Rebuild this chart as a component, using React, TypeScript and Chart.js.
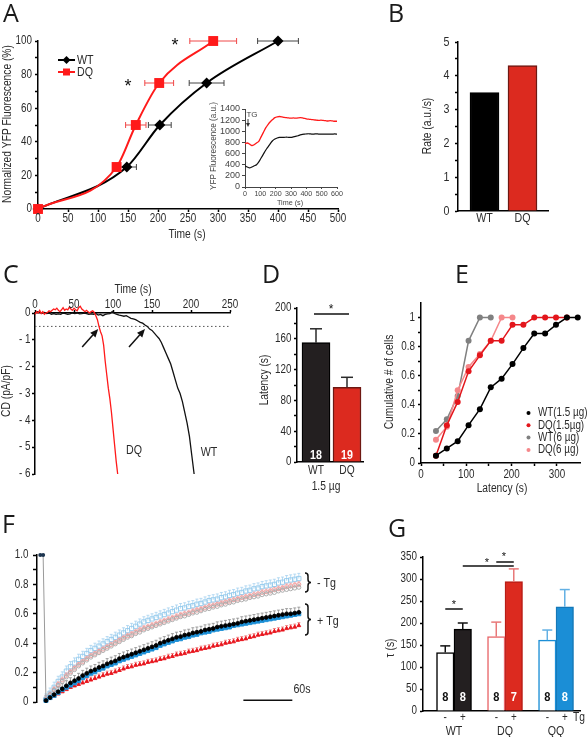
import React, { useEffect, useRef } from 'react';
import { Chart, registerables } from 'chart.js';

Chart.register(...registerables);

const W = 588;
const H = 737;
const FONT = '"Liberation Sans", Arial, sans-serif';
const LETTER_FONT = '"Open Sans", "DejaVu Sans", sans-serif';
const NARROW = 0.82;
const TS = 12.5; // title / annotation text size
const INK = '#000000';
const LABEL = '#2b2b2b';
const RED = '#ff1a1a';
const BAR_RED = '#dc2a1f';
const BAR_BLACK = '#231f20';
const BLUE = '#1b8ed6';

/* ---------- Panel A ---------- */
const A_LEVELS = [0, 25, 50, 75, 100];
const A_WT_TIME = [0, 148, 203, 281, 400];
const A_WT_TIME_ERR = [0, 16, 19, 29, 34];
const A_DQ_TIME = [0, 131, 163, 202, 292];
const A_DQ_TIME_ERR = [0, 0, 17, 24, 39];
const A_X_TICKS = [0, 50, 100, 150, 200, 250, 300, 350, 400, 450, 500];
const A_Y_TICKS = [0, 20, 40, 60, 80, 100];
const A_Y_MINOR = [10, 30, 50, 70, 90];

/* ---------- Panel A inset ---------- */
const INSET_STEP_S = 15;
const INSET_DQ = [780, 790, 770, 745, 760, 790, 820, 900, 980, 1060, 1120, 1170, 1210, 1245, 1260, 1265, 1260, 1250, 1245, 1240, 1235, 1240, 1235, 1240, 1245, 1240, 1230, 1220, 1215, 1210, 1205, 1200, 1195, 1200, 1195, 1190, 1185, 1190, 1185, 1180, 1180];
const INSET_WT = [380, 360, 345, 360, 380, 400, 450, 520, 590, 660, 720, 780, 830, 860, 880, 890, 890, 890, 895, 890, 890, 900, 910, 920, 935, 945, 950, 955, 955, 950, 950, 955, 950, 950, 948, 950, 950, 948, 950, 952, 950];
const INSET_X_TICKS = [0, 100, 200, 300, 400, 500, 600];
const INSET_Y_TICKS = [0, 200, 400, 600, 800, 1000, 1200, 1400];

/* ---------- Panel B ---------- */
const B_CATS = ['WT', 'DQ'];
const B_RATE = [3.5, 4.3];
const B_Y_TICKS = [0, 1, 2, 3, 4, 5];
const B_Y_MINOR = [0.5, 1.5, 2.5, 3.5, 4.5];

/* ---------- Panel C ---------- */
const C_DQ_STEP_S = 2;
const C_DQ = [-0.05, 0.05, 0.0, 0.1, -0.02, 0.05, -0.05, 0.0, 0.02, 0.08, 0.05, 0.1, 0.15, 0.12, 0.18, 0.1, 0.05, 0.12, 0.2, 0.1, 0.15, 0.12, 0.22, 0.15, 0.1, 0.18, 0.12, 0.08, 0.2, 0.25, 0.15, 0.1, 0.05, 0.1, 0.05, 0.0, 0.05, 0.08, 0.02, -0.1, -0.25, -0.5, -0.7, -0.85, -1.2, -1.8, -2.3, -2.8, -3.2, -3.7, -4.3, -4.9, -5.5, -6];
const C_WT_STEP_S = 3;
const C_WT = [0, 0.05, 0.02, 0, 0.02, -0.02, 0, -0.05, -0.02, -0.05, -0.03, -0.05, 0, -0.02, -0.05, -0.03, 0, -0.02, 0, -0.03, -0.02, 0, -0.02, -0.05, -0.03, -0.05, -0.02, -0.08, -0.05, -0.1, -0.05, -0.03, -0.02, 0.05, -0.02, -0.05, -0.08, -0.1, -0.12, -0.1, -0.15, -0.2, -0.22, -0.25, -0.3, -0.35, -0.38, -0.45, -0.5, -0.6, -0.65, -0.75, -0.85, -0.95, -1.1, -1.3, -1.5, -1.7, -1.9, -2.2, -2.5, -2.8, -3.0, -3.3, -3.7, -4.1, -4.6, -5.3, -6.0];
const C_THRESHOLD = -0.5;
const C_ARROW_TIPS = [[81, -0.6], [141, -0.6]];
const C_X_TICKS = [0, 50, 100, 150, 200, 250];
const C_Y_TICKS = [0, -1, -2, -3, -4, -5, -6];

/* ---------- Panel D ---------- */
const D_CATS = ['WT', 'DQ'];
const D_LATENCY = [155, 97];
const D_ERR = [18, 13];
const D_N = ['18', '19'];
const D_Y_TICKS = [0, 40, 80, 120, 160, 200];
const D_Y_MINOR = [20, 60, 100, 140, 180];

/* ---------- Panel E ---------- */
const E_T_WT15 = [33, 57, 81, 105, 130, 154, 178, 202, 226, 250, 274, 298, 322, 346];
const E_WT15 = [0.05, 0.1, 0.15, 0.26, 0.37, 0.52, 0.58, 0.68, 0.79, 0.89, 0.89, 0.95, 1, 1];
const E_T_DQ15 = [33, 57, 81, 105, 130, 154, 178, 202, 226, 250, 274, 298, 322];
const E_DQ15 = [0.05, 0.26, 0.42, 0.63, 0.74, 0.84, 0.84, 0.95, 0.95, 1, 1, 1, 1];
const E_T_WT6 = [33, 57, 81, 105, 130, 154];
const E_WT6 = [0.22, 0.3, 0.46, 0.84, 1, 1];
const E_T_DQ6 = [33, 57, 81, 105, 130, 154, 178, 202];
const E_DQ6 = [0.16, 0.25, 0.5, 0.66, 0.75, 0.84, 1, 1];
const E_LEGEND = ['WT(1.5 µg)', 'DQ(1.5µg)', 'WT(6 µg)', 'DQ(6 µg)'];
const E_COLORS = ['#000000', '#e3161c', '#808080', '#f5878a'];
const E_X_TICKS = [0, 100, 200, 300];
const E_X_MINOR = [50, 150, 250];
const E_Y_TICKS = [0, 0.2, 0.4, 0.6, 0.8, 1];
const E_Y_MINOR = [0.1, 0.3, 0.5, 0.7, 0.9];

/* ---------- Panel F ---------- */
const F_STEP_S = 5;
const F_PRE_T = [-7, -3.5];
const F_PRE = [1, 1];
const F_WT_TG = [0.01, 0.03, 0.05, 0.07, 0.09, 0.11, 0.13, 0.145, 0.16, 0.18,
  0.195, 0.21, 0.22, 0.235, 0.245, 0.26, 0.27, 0.28, 0.295, 0.305,
  0.315, 0.325, 0.335, 0.345, 0.355, 0.365, 0.375, 0.385, 0.4, 0.41,
  0.42, 0.43, 0.44, 0.445, 0.455, 0.46, 0.47, 0.475, 0.48, 0.49,
  0.495, 0.5, 0.51, 0.515, 0.52, 0.525, 0.53, 0.535, 0.545, 0.55,
  0.555, 0.56, 0.565, 0.57, 0.575, 0.58, 0.585, 0.59, 0.595, 0.6,
  0.6, 0.605, 0.61];
const F_QQ_TG = [0.01, 0.03, 0.045, 0.065, 0.085, 0.1, 0.115, 0.13, 0.145, 0.165,
  0.18, 0.195, 0.205, 0.22, 0.23, 0.245, 0.255, 0.265, 0.28, 0.29,
  0.3, 0.31, 0.32, 0.33, 0.34, 0.35, 0.36, 0.37, 0.385, 0.395,
  0.405, 0.415, 0.425, 0.43, 0.44, 0.445, 0.455, 0.46, 0.47, 0.475,
  0.48, 0.49, 0.495, 0.5, 0.505, 0.51, 0.52, 0.525, 0.53, 0.535,
  0.54, 0.545, 0.55, 0.555, 0.56, 0.565, 0.57, 0.575, 0.58, 0.585,
  0.59, 0.595, 0.6];
const F_DQ_TG = [0.01, 0.025, 0.04, 0.055, 0.07, 0.085, 0.1, 0.11, 0.12, 0.13,
  0.14, 0.15, 0.16, 0.17, 0.18, 0.19, 0.195, 0.205, 0.215, 0.225,
  0.235, 0.24, 0.25, 0.255, 0.26, 0.27, 0.275, 0.28, 0.29, 0.295,
  0.305, 0.31, 0.32, 0.325, 0.33, 0.34, 0.345, 0.35, 0.36, 0.365,
  0.37, 0.38, 0.385, 0.39, 0.4, 0.405, 0.41, 0.42, 0.425, 0.43,
  0.44, 0.445, 0.455, 0.46, 0.465, 0.47, 0.48, 0.485, 0.49, 0.5,
  0.505, 0.51, 0.52];
const F_QQ_NO = [0.02, 0.06, 0.1, 0.14, 0.17, 0.21, 0.24, 0.265, 0.29, 0.31,
  0.33, 0.35, 0.365, 0.38, 0.395, 0.41, 0.425, 0.44, 0.455, 0.47,
  0.485, 0.5, 0.515, 0.53, 0.545, 0.555, 0.565, 0.575, 0.585, 0.595,
  0.605, 0.615, 0.625, 0.635, 0.64, 0.65, 0.655, 0.665, 0.67, 0.68,
  0.69, 0.695, 0.7, 0.71, 0.715, 0.725, 0.73, 0.74, 0.745, 0.755,
  0.76, 0.77, 0.775, 0.785, 0.79, 0.795, 0.8, 0.81, 0.815, 0.825,
  0.83, 0.835, 0.84];
const F_DQ_NO = [0.02, 0.05, 0.085, 0.12, 0.15, 0.18, 0.205, 0.23, 0.255, 0.275,
  0.295, 0.315, 0.33, 0.345, 0.36, 0.375, 0.39, 0.405, 0.42, 0.435,
  0.45, 0.46, 0.475, 0.49, 0.5, 0.51, 0.52, 0.53, 0.54, 0.55,
  0.56, 0.57, 0.58, 0.59, 0.6, 0.605, 0.615, 0.625, 0.63, 0.64,
  0.65, 0.655, 0.665, 0.67, 0.68, 0.685, 0.695, 0.7, 0.71, 0.715,
  0.72, 0.73, 0.735, 0.745, 0.75, 0.755, 0.765, 0.77, 0.775, 0.785,
  0.79, 0.795, 0.8];
const F_WT_NO = [0.02, 0.05, 0.08, 0.11, 0.14, 0.17, 0.195, 0.22, 0.245, 0.265,
  0.285, 0.305, 0.32, 0.335, 0.35, 0.365, 0.38, 0.395, 0.41, 0.425,
  0.44, 0.45, 0.465, 0.475, 0.49, 0.5, 0.51, 0.52, 0.53, 0.54,
  0.55, 0.56, 0.57, 0.58, 0.585, 0.595, 0.605, 0.61, 0.62, 0.63,
  0.635, 0.645, 0.65, 0.66, 0.665, 0.675, 0.68, 0.69, 0.695, 0.7,
  0.71, 0.715, 0.72, 0.73, 0.735, 0.74, 0.745, 0.755, 0.76, 0.765,
  0.77, 0.775, 0.78];
// order: WT+Tg, QQ+Tg, DQ+Tg, WT-Tg, DQ-Tg, QQ-Tg
const F_ERR = [0.035, 0.01, 0.02, 0.02, 0.02, 0.035];
const F_SCALE_BAR_S = [242, 302];
const F_Y_TICKS = [0, 0.2, 0.4, 0.6, 0.8, 1];
const F_Y_MINOR = [0.1, 0.3, 0.5, 0.7, 0.9];

/* ---------- Panel G ---------- */
const G_GROUPS = ['WT', 'DQ', 'QQ'];
const G_MINUS = [133, 169, 161];
const G_MINUS_ERR = [15, 33, 23];
const G_PLUS = [186, 294, 237];
const G_PLUS_ERR = [14, 29, 39];
const G_N_MINUS = ['8', '8', '8'];
const G_N_PLUS = ['8', '7', '8'];
const G_Y_TICKS = [0, 50, 100, 150, 200, 250, 300, 350];

/* ---------- helpers ---------- */
type Area = { l: number; t: number; r: number; b: number };

const pts = (xs: number[], ys: number[]) => xs.map((x, i) => ({ x, y: ys[i] }));
const series = (step: number, ys: number[]) => ys.map((y, i) => ({ x: i * step, y }));

function txt(ctx: CanvasRenderingContext2D, s: string, x: number, y: number, o: any = {}) {
  ctx.save();
  ctx.font = `${o.bold ? 'bold ' : ''}${o.size ?? TS}px ${o.family ?? FONT}`;
  ctx.fillStyle = o.color ?? LABEL;
  ctx.textAlign = o.align ?? 'center';
  ctx.textBaseline = o.base ?? 'middle';
  ctx.translate(x, y);
  if (o.rot) ctx.rotate(o.rot);
  const sx = o.sx ?? NARROW;
  if (sx !== 1) ctx.scale(sx, 1);
  ctx.fillText(s, 0, 0);
  ctx.restore();
}

function axis(o: any) {
  const all = [...(o.majors || []), ...(o.minors || [])].sort((a: number, b: number) => a - b);
  const tl = o.tickLen ?? 4;
  const col = o.color ?? INK;
  const lw = o.lw ?? 1.5;
  return {
    type: 'linear',
    position: o.position,
    min: o.min,
    max: o.max,
    offset: false,
    display: o.display ?? true,
    afterFit: (s: any) => {
      if (s.isHorizontal()) s.height = 0;
      else s.width = 0;
    },
    afterBuildTicks: (s: any) => {
      s.ticks = all.map((value: number) => ({ value }));
    },
    ticks: { display: false, autoSkip: false, maxRotation: 0, minRotation: 0 },
    grid: {
      display: tl > 0,
      offset: false,
      drawOnChartArea: false,
      drawTicks: tl > 0,
      tickLength: tl,
      tickColor: col,
      tickWidth: lw,
    },
    border: { display: o.border ?? true, color: col, width: lw },
  };
}

// tick labels drawn from the library's scales
function axisLabels(c: any, id: string, o: any) {
  if (!o || !o.majors) return;
  const s = c.scales[id];
  const a = c.chartArea;
  const ctx = c.ctx;
  const tl = o.tickLen ?? 4;
  const pad = o.pad ?? 2;
  const style = { size: o.size ?? 12, color: o.labelColor ?? LABEL, family: o.family ?? FONT, sx: o.sx ?? NARROW };
  o.majors.forEach((v: number) => {
    const label = o.fmt ? o.fmt(v) : String(v);
    if (!label) return;
    const p = s.getPixelForValue(v);
    if (s.isHorizontal()) {
      if (o.position === 'top') txt(ctx, label, p, a.top - tl - pad, { ...style, base: 'alphabetic' });
      else txt(ctx, label, p, a.bottom + tl + pad, { ...style, base: 'top' });
    } else {
      txt(ctx, label, a.left - tl - pad, p, { ...style, align: 'right', base: 'middle' });
    }
  });
}

function base(area: Area, scales: any) {
  return {
    responsive: false,
    maintainAspectRatio: false,
    animation: false,
    devicePixelRatio: 1,
    events: [],
    layout: {
      autoPadding: false,
      padding: { left: area.l, top: area.t, right: W - area.r, bottom: H - area.b },
    },
    plugins: { legend: { display: false }, tooltip: { enabled: false }, title: { display: false } },
    scales,
  };
}

function hook(id: string, xo: any, yo: any, before: any, after: any) {
  return {
    id,
    beforeDatasetsDraw(c: any) {
      if (before) before(c);
    },
    afterDatasetsDraw(c: any) {
      axisLabels(c, 'x', xo);
      axisLabels(c, 'y', yo);
      if (after) after(c);
    },
  };
}

function star(ctx: CanvasRenderingContext2D, x: number, y: number, size: number) {
  txt(ctx, '*', x, y + 0.22 * size, { size, color: '#111', sx: 1 });
}

function seg(ctx: CanvasRenderingContext2D, x1: number, y1: number, x2: number, y2: number, color: string, w: number, dash?: number[]) {
  ctx.save();
  ctx.strokeStyle = color;
  ctx.lineWidth = w;
  if (dash) ctx.setLineDash(dash);
  ctx.beginPath();
  ctx.moveTo(x1, y1);
  ctx.lineTo(x2, y2);
  ctx.stroke();
  ctx.restore();
}

function arrow(ctx: CanvasRenderingContext2D, x1: number, y1: number, x2: number, y2: number, color: string, hl = 8, hw = 3.5, lw = 1.5) {
  const a = Math.atan2(y2 - y1, x2 - x1);
  const bx = x2 - hl * Math.cos(a);
  const by = y2 - hl * Math.sin(a);
  seg(ctx, x1, y1, bx, by, color, lw);
  ctx.save();
  ctx.fillStyle = color;
  ctx.beginPath();
  ctx.moveTo(x2, y2);
  ctx.lineTo(bx + hw * Math.sin(a), by - hw * Math.cos(a));
  ctx.lineTo(bx - hw * Math.sin(a), by + hw * Math.cos(a));
  ctx.closePath();
  ctx.fill();
  ctx.restore();
}

function vErr(ctx: CanvasRenderingContext2D, x: number, y1: number, y2: number, cap: number, color: string, w: number) {
  seg(ctx, x, y1, x, y2, color, w);
  seg(ctx, x - cap / 2, y2, x + cap / 2, y2, color, w);
}

function brace(ctx: CanvasRenderingContext2D, x: number, y1: number, y2: number) {
  const ym = (y1 + y2) / 2;
  const r = 3;
  const xm = x + 3;
  const xt = x + 6;
  ctx.save();
  ctx.strokeStyle = '#111';
  ctx.lineWidth = 1.5;
  ctx.beginPath();
  ctx.moveTo(x, y1);
  ctx.quadraticCurveTo(xm, y1, xm, y1 + r);
  ctx.lineTo(xm, ym - r);
  ctx.quadraticCurveTo(xm, ym, xt, ym);
  ctx.quadraticCurveTo(xm, ym, xm, ym + r);
  ctx.lineTo(xm, y2 - r);
  ctx.quadraticCurveTo(xm, y2, x, y2);
  ctx.stroke();
  ctx.restore();
}

const ROT = -Math.PI / 2;

/* ---------- Panel A ---------- */
function drawAErr(c: any) {
  const ctx = c.ctx;
  const xs = c.scales.x;
  const ys = c.scales.y;
  const h = (t: number, e: number, lv: number, color: string) => {
    if (!e) return;
    const y = ys.getPixelForValue(lv);
    const x1 = xs.getPixelForValue(t - e);
    const x2 = xs.getPixelForValue(t + e);
    seg(ctx, x1, y, x2, y, color, 1);
    seg(ctx, x1, y - 3, x1, y + 3, color, 1);
    seg(ctx, x2, y - 3, x2, y + 3, color, 1);
  };
  A_LEVELS.forEach((lv, i) => {
    h(A_WT_TIME[i], A_WT_TIME_ERR[i], lv, '#444');
    h(A_DQ_TIME[i], A_DQ_TIME_ERR[i], lv, '#f04848');
  });
}

function drawAText(c: any) {
  const ctx = c.ctx;
  seg(ctx, 58, 60, 75, 60, INK, 2);
  ctx.save();
  ctx.fillStyle = INK;
  ctx.beginPath();
  ctx.moveTo(66.5, 56);
  ctx.lineTo(70.5, 60);
  ctx.lineTo(66.5, 64);
  ctx.lineTo(62.5, 60);
  ctx.closePath();
  ctx.fill();
  ctx.restore();
  txt(ctx, 'WT', 77, 60, { size: 13, align: 'left' });
  seg(ctx, 58, 72, 75, 72, RED, 2);
  ctx.save();
  ctx.fillStyle = RED;
  ctx.fillRect(63, 68.5, 7, 7);
  ctx.restore();
  txt(ctx, 'DQ', 77, 72, { size: 13, align: 'left' });
  star(ctx, 128, 83, 18);
  star(ctx, 175, 42, 18);
  txt(ctx, 'Time (s)', 187, 235);
  txt(ctx, 'Normalized YFP Fluorescence (%)', 8, 124, { rot: ROT });
}

function drawLetters(c: any) {
  const ctx = c.ctx;
  const letters: [string, number, number][] = [
    ['A', 3, 22], ['B', 388, 22], ['C', 3, 283], ['D', 262, 283], ['E', 455, 283], ['F', 2, 533], ['G', 388, 537],
  ];
  letters.forEach(([s, x, y]) => txt(ctx, s, x, y, { size: 25, family: LETTER_FONT, align: 'left', base: 'alphabetic', color: '#1a1a1a', sx: 1 }));
}

function panelA() {
  const area = { l: 38, t: 41, r: 338, b: 209 };
  const xo = { min: 0, max: 500, majors: A_X_TICKS, pad: 1, tickLen: 3 };
  const yo = { min: 0, max: 100, majors: A_Y_TICKS, minors: A_Y_MINOR, pad: 3, tickLen: 3 };
  return {
    type: 'line',
    data: {
      datasets: [
        {
          data: pts(A_DQ_TIME, A_LEVELS), borderColor: RED, backgroundColor: RED, pointBackgroundColor: RED,
          pointBorderColor: RED, borderWidth: 2, pointStyle: 'rect', pointRadius: 7, pointBorderWidth: 0,
          cubicInterpolationMode: 'monotone', clip: false,
        },
        {
          data: pts(A_WT_TIME, A_LEVELS), borderColor: INK, backgroundColor: INK, pointBackgroundColor: INK,
          pointBorderColor: INK, borderWidth: 2, pointStyle: 'rectRot', pointRadius: 5.5, pointBorderWidth: 0,
          cubicInterpolationMode: 'monotone', clip: false,
        },
      ],
    },
    options: base(area, { x: axis(xo), y: axis(yo) }),
    plugins: [hook('a', xo, yo, drawAErr, (c: any) => { drawAText(c); drawLetters(c); })],
  };
}

/* ---------- Inset ---------- */
function drawInset(c: any) {
  const ctx = c.ctx;
  txt(ctx, 'Time (s)', 290, 203, { size: 8, color: '#444', sx: 0.9 });
  txt(ctx, 'YFP Fluorescence (a.u.)', 214, 146, { size: 9, color: '#444', rot: ROT, sx: 0.9 });
  txt(ctx, 'TG', 252, 115, { size: 8, color: '#444', sx: 1 });
  arrow(ctx, 248, 119, 248, 127, '#333', 4, 2, 1);
}

function panelInset() {
  const area = { l: 245, t: 109, r: 337, b: 187 };
  const xo = { min: 0, max: 600, majors: INSET_X_TICKS, size: 7.5, pad: 1, tickLen: 2, lw: 1, color: '#444', labelColor: '#444', sx: 0.95 };
  const yo = { min: 0, max: 1400, majors: INSET_Y_TICKS, size: 9, pad: 2, tickLen: 3, lw: 1, color: '#444', labelColor: '#444', sx: 1 };
  return {
    type: 'line',
    data: {
      datasets: [
        { data: series(INSET_STEP_S, INSET_DQ), borderColor: RED, borderWidth: 1.3, pointRadius: 0, tension: 0.3 },
        { data: series(INSET_STEP_S, INSET_WT), borderColor: '#111', borderWidth: 1.2, pointRadius: 0, tension: 0.3 },
      ],
    },
    options: base(area, { x: axis(xo), y: axis(yo) }),
    plugins: [hook('inset', xo, yo, null, drawInset)],
  };
}

/* ---------- Panel B ---------- */
function panelB() {
  const area = { l: 458, t: 42, r: 548, b: 211 };
  const xo = { min: -0.697, max: 1.671, majors: [0, 1], fmt: (v: number) => B_CATS[Math.round(v)], size: 13, pad: 0.5, tickLen: 0 };
  const yo = { min: 0, max: 5, majors: B_Y_TICKS, minors: B_Y_MINOR, size: 13, pad: 5.5, tickLen: 3 };
  return {
    type: 'bar',
    data: {
      datasets: [
        {
          data: B_RATE.map((y, i) => ({ x: i, y })),
          backgroundColor: [INK, BAR_RED],
          borderColor: ['#000', '#6e1812'],
          borderWidth: 1.5,
          barThickness: 29,
        },
      ],
    },
    options: base(area, { x: axis(xo), y: axis(yo) }),
    plugins: [hook('b', xo, yo, null, (c: any) => txt(c.ctx, 'Rate (a.u./s)', 428, 126, { rot: ROT }))],
  };
}

/* ---------- Panel C ---------- */
function drawCBefore(c: any) {
  const ctx = c.ctx;
  const xs = c.scales.x;
  const ys = c.scales.y;
  const y = ys.getPixelForValue(C_THRESHOLD);
  seg(ctx, xs.getPixelForValue(0), y, xs.getPixelForValue(250), y, '#555', 1, [1.5, 2.5]);
}

function drawCAfter(c: any) {
  const ctx = c.ctx;
  const xs = c.scales.x;
  const ys = c.scales.y;
  C_ARROW_TIPS.forEach(([t, v]) => {
    const x = xs.getPixelForValue(t);
    const y = ys.getPixelForValue(v);
    arrow(ctx, x - 16, y + 18, x, y, '#111');
  });
  txt(ctx, 'DQ', 134, 450, { size: 13 });
  txt(ctx, 'WT', 209, 452, { size: 13 });
  txt(ctx, 'Time (s)', 133, 290);
  txt(ctx, 'CD (pA/pF)', 7, 391, { rot: ROT });
}

function panelC() {
  const area = { l: 35, t: 313, r: 230, b: 474 };
  const xo = { min: 0, max: 250, majors: C_X_TICKS, position: 'top', pad: 2, tickLen: 3 };
  const yo = { min: -6, max: 0, majors: C_Y_TICKS, fmt: (v: number) => (v === 0 ? '0' : '- ' + Math.abs(v)), pad: 1.5, tickLen: 3 };
  return {
    type: 'line',
    data: {
      datasets: [
        { data: series(C_DQ_STEP_S, C_DQ), borderColor: RED, borderWidth: 1.3, pointRadius: 0, clip: false },
        { data: series(C_WT_STEP_S, C_WT), borderColor: '#111', borderWidth: 1.3, pointRadius: 0, clip: false },
      ],
    },
    options: base(area, { x: axis(xo), y: axis(yo) }),
    plugins: [hook('c', xo, yo, drawCBefore, drawCAfter)],
  };
}

/* ---------- Panel D ---------- */
function drawD(c: any) {
  const ctx = c.ctx;
  const ys = c.scales.y;
  const meta = c.getDatasetMeta(0);
  meta.data.forEach((el: any, i: number) => {
    vErr(ctx, el.x, el.y, ys.getPixelForValue(D_LATENCY[i] + D_ERR[i]), 12, '#2a2a2a', 1.5);
    txt(ctx, D_N[i], el.x, 455, { size: 13, bold: true, color: '#ffffff' });
  });
  txt(ctx, '1.5 µg', 326, 487);
  seg(ctx, 314, 314, 349, 314, '#111', 1.5);
  star(ctx, 331, 307, 12);
  txt(ctx, 'Latency (s)', 265, 380, { rot: ROT });
}

function panelD() {
  const area = { l: 297, t: 308, r: 363, b: 462 };
  const xo = { min: -0.613, max: 1.516, majors: [0, 1], fmt: (v: number) => D_CATS[Math.round(v)], size: 12.5, pad: 2.5, tickLen: 0 };
  const yo = { min: 0, max: 200, majors: D_Y_TICKS, minors: D_Y_MINOR, pad: 2.5, tickLen: 3 };
  return {
    type: 'bar',
    data: {
      datasets: [
        {
          data: D_LATENCY.map((y, i) => ({ x: i, y })),
          backgroundColor: [BAR_BLACK, BAR_RED],
          borderColor: ['#000', '#6e1812'],
          borderWidth: 1.5,
          barThickness: 28,
        },
      ],
    },
    options: base(area, { x: axis(xo), y: axis(yo) }),
    plugins: [hook('d', xo, yo, null, drawD)],
  };
}

/* ---------- Panel E ---------- */
function drawE(c: any) {
  const ctx = c.ctx;
  E_LEGEND.forEach((s, i) => {
    const y = 413 + i * 12.3;
    ctx.save();
    ctx.fillStyle = E_COLORS[i];
    ctx.beginPath();
    ctx.arc(528.5, y, 2, 0, Math.PI * 2);
    ctx.fill();
    ctx.restore();
    txt(ctx, s, 538, y, { size: 12, align: 'left' });
  });
  txt(ctx, 'Latency (s)', 502, 489);
  txt(ctx, 'Cumulative # of cells', 390, 382, { rot: ROT });
}

function eSet(t: number[], v: number[], color: string) {
  return {
    data: pts(t, v), borderColor: color, backgroundColor: color, pointBackgroundColor: color,
    pointBorderColor: color, borderWidth: 1.5, pointRadius: 3, pointBorderWidth: 0, clip: false,
  };
}

function panelE() {
  const area = { l: 421, t: 303, r: 580, b: 463 };
  const xo = { min: 0, max: 351, majors: E_X_TICKS, minors: E_X_MINOR, pad: 2.5, tickLen: 3 };
  const yo = { min: 0, max: 1.1, majors: E_Y_TICKS, minors: E_Y_MINOR, pad: 3, tickLen: 3 };
  return {
    type: 'line',
    data: {
      datasets: [
        eSet(E_T_WT15, E_WT15, E_COLORS[0]),
        eSet(E_T_DQ15, E_DQ15, E_COLORS[1]),
        eSet(E_T_DQ6, E_DQ6, E_COLORS[3]),
        eSet(E_T_WT6, E_WT6, E_COLORS[2]),
      ],
    },
    options: base(area, { x: axis(xo), y: axis(yo) }),
    plugins: [hook('e', xo, yo, null, drawE)],
  };
}

/* ---------- Panel F ---------- */
const F_SERIES = [F_WT_TG, F_QQ_TG, F_DQ_TG, F_WT_NO, F_DQ_NO, F_QQ_NO];
const F_ERR_COLORS = ['#8c8c8c', '#62b0e4', '#f07070', '#b4b4b4', '#f4b0b0', '#a6d2f0'];

function drawFErr(c: any) {
  const ctx = c.ctx;
  const xs = c.scales.x;
  const ys = c.scales.y;
  F_SERIES.forEach((s, k) => {
    s.forEach((v, i) => {
      const x = xs.getPixelForValue(i * F_STEP_S);
      vErr(ctx, x, ys.getPixelForValue(v), ys.getPixelForValue(v + F_ERR[k]), 3, F_ERR_COLORS[k], 0.8);
    });
  });
}

function drawFAfter(c: any) {
  const ctx = c.ctx;
  const xs = c.scales.x;
  const ys = c.scales.y;
  const y = ys.getPixelForValue(0.012);
  seg(ctx, xs.getPixelForValue(F_SCALE_BAR_S[0]), y, xs.getPixelForValue(F_SCALE_BAR_S[1]), y, '#111', 1.5);
  txt(ctx, '60s', 302, 689, { size: 13 });
  brace(ctx, 305, 573, 592);
  brace(ctx, 305, 604, 635);
  txt(ctx, '- Tg', 317, 583, { size: 13, align: 'left' });
  txt(ctx, '+ Tg', 317, 621, { size: 13, align: 'left' });
}

function fSet(v: number[], style: string, r: number, fill: string, edge: string) {
  return {
    data: series(F_STEP_S, v), showLine: false, pointStyle: style, pointRadius: r,
    pointBackgroundColor: fill, pointBorderColor: edge, pointBorderWidth: 0.9, clip: false,
  };
}

function panelF() {
  const area = { l: 37, t: 555, r: 307, b: 702 };
  const xo = { min: -11, max: 320, majors: [0], display: false };
  const yo = {
    min: 0, max: 1, majors: F_Y_TICKS, minors: F_Y_MINOR,
    fmt: (v: number) => (v === 0 ? '0' : v.toFixed(1)), pad: 4.5, tickLen: 4,
  };
  return {
    type: 'line',
    data: {
      datasets: [
        fSet(F_WT_TG, 'circle', 1.9, '#000000', '#000000'),
        fSet(F_QQ_TG, 'rect', 2.8, BLUE, BLUE),
        fSet(F_DQ_TG, 'triangle', 2.2, '#e8141c', '#e8141c'),
        fSet(F_WT_NO, 'circle', 2, 'rgba(255,255,255,0)', '#a6a6a6'),
        fSet(F_DQ_NO, 'circle', 2, 'rgba(255,255,255,0)', '#f29b9b'),
        fSet(F_QQ_NO, 'rect', 3, 'rgba(255,255,255,0)', '#93c9ec'),
        {
          data: [...pts(F_PRE_T, F_PRE), { x: 0, y: F_WT_TG[0] }],
          borderColor: '#9a9a9a', borderWidth: 1, pointRadius: [2, 2, 0],
          pointBackgroundColor: '#1d3550', pointBorderWidth: 0, clip: false,
        },
      ],
    },
    options: base(area, { x: axis(xo), y: axis(yo) }),
    plugins: [hook('f', null, yo, drawFErr, drawFAfter)],
  };
}

/* ---------- Panel G ---------- */
const G_EDGE_MINUS = ['#000000', '#e8676a', BLUE];
const G_FILL_PLUS = [BAR_BLACK, BAR_RED, BLUE];
const G_EDGE_PLUS = ['#000000', '#b81d16', '#1578b8'];
const G_ERR_COLORS = ['#111111', '#e87878', '#62b0e4'];

function drawG(c: any) {
  const ctx = c.ctx;
  const ys = c.scales.y;
  const m0 = c.getDatasetMeta(0).data;
  const m1 = c.getDatasetMeta(1).data;
  G_GROUPS.forEach((g, i) => {
    const a = m0[i];
    const b = m1[i];
    vErr(ctx, a.x, a.y, ys.getPixelForValue(G_MINUS[i] + G_MINUS_ERR[i]), 10, G_ERR_COLORS[i], 1.5);
    vErr(ctx, b.x, b.y, ys.getPixelForValue(G_PLUS[i] + G_PLUS_ERR[i]), 10, G_ERR_COLORS[i], 1.5);
    txt(ctx, G_N_MINUS[i], a.x, 697, { size: 13.5, bold: true, color: '#111' });
    txt(ctx, G_N_PLUS[i], b.x, 697, { size: 13.5, bold: true, color: '#ffffff' });
    txt(ctx, '-', a.x, 718, { size: 12 });
    txt(ctx, '+', b.x, 718, { size: 12 });
    txt(ctx, g, (a.x + b.x) / 2, 731, { size: 13 });
  });
  txt(ctx, 'Tg', 579, 718, { size: 12.5 });
  seg(ctx, m0[0].x, 609, m1[0].x, 609, '#111', 1.5);
  star(ctx, (m0[0].x + m1[0].x) / 2, 603, 11);
  seg(ctx, m1[0].x, 566, m1[1].x, 566, '#111', 1.5);
  star(ctx, 487, 561, 11);
  seg(ctx, m0[1].x, 562, m1[1].x, 562, '#111', 1.5);
  star(ctx, 504, 555, 11);
  txt(ctx, 'τ (s)', 391, 648, { rot: ROT });
}

function panelG() {
  const area = { l: 423, t: 557, r: 580, b: 711 };
  const xo = { min: -0.608, max: 2.47, majors: [0, 1, 2], fmt: () => '', tickLen: 0 };
  const yo = { min: 0, max: 350, majors: G_Y_TICKS, pad: 3, tickLen: 3 };
  return {
    type: 'bar',
    data: {
      datasets: [
        {
          data: G_MINUS.map((y, i) => ({ x: i, y })),
          backgroundColor: '#ffffff', borderColor: G_EDGE_MINUS, borderWidth: 1.5, barThickness: 17.5,
        },
        {
          data: G_PLUS.map((y, i) => ({ x: i, y })),
          backgroundColor: G_FILL_PLUS, borderColor: G_EDGE_PLUS, borderWidth: 1.5, barThickness: 17.5,
        },
      ],
    },
    options: base(area, { x: axis(xo), y: axis(yo) }),
    plugins: [hook('g', null, yo, null, drawG)],
  };
}

const FACTORIES = [panelA, panelInset, panelB, panelC, panelD, panelE, panelF, panelG];

export default function App() {
  const refs = useRef<(HTMLCanvasElement | null)[]>([]);
  useEffect(() => {
    const charts = FACTORIES.map((f, i) => new Chart(refs.current[i] as HTMLCanvasElement, f() as any));
    return () => charts.forEach((ch) => ch.destroy());
  }, []);
  return (
    <div style={{ position: 'fixed', left: 0, top: 0, width: W, height: H, background: '#ffffff' }}>
      {FACTORIES.map((_, i) => (
        <canvas
          key={i}
          ref={(el) => {
            refs.current[i] = el;
          }}
          width={W}
          height={H}
          style={{ position: 'absolute', left: 0, top: 0, width: W, height: H }}
        />
      ))}
    </div>
  );
}
